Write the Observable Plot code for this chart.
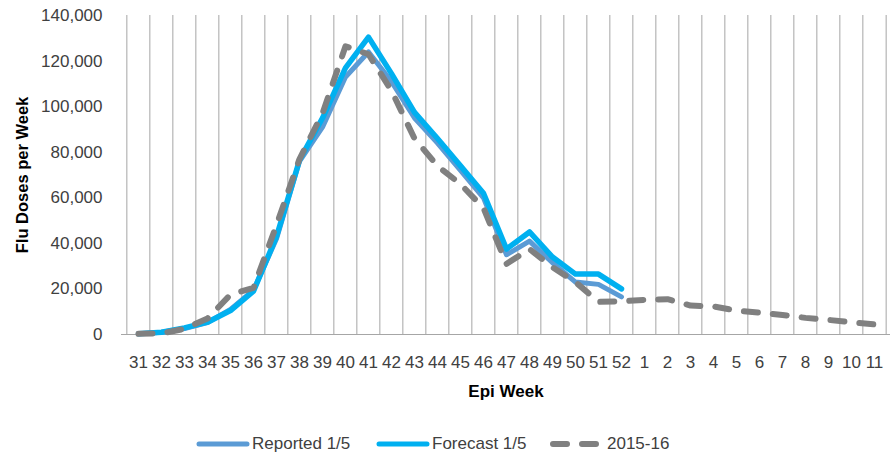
<!DOCTYPE html>
<html>
<head>
<meta charset="utf-8">
<script src="https://cdn.jsdelivr.net/npm/d3@7"></script>
<script src="https://cdn.jsdelivr.net/npm/@observablehq/plot@0.6"></script>
<style>
  html, body { margin: 0; padding: 0; background: #fff; }
  #wrap { width: 895px; position: relative; font-family: "Liberation Sans", Arial, sans-serif; }
  #legend { position: relative; width: 895px; height: 47px; font-size: 17px; color: #404040; }
  .item { position: absolute; top: 23px; display: flex; align-items: center; height: 22px; }
  .item svg { display: block; margin-right: 2px; }
</style>
</head>
<body>
<div id="wrap">
  <div id="chart"></div>
  <div id="legend">
    <div class="item" style="left:196px">
      <svg width="54" height="10"><line x1="3" y1="5" x2="51" y2="5" stroke="#5B9BD5" stroke-width="5" stroke-linecap="round"/></svg>Reported 1/5
    </div>
    <div class="item" style="left:376px">
      <svg width="54" height="10"><line x1="3" y1="5" x2="51" y2="5" stroke="#00B0F0" stroke-width="5" stroke-linecap="round"/></svg>Forecast 1/5
    </div>
    <div class="item" style="left:549px">
      <svg width="56" height="10"><line x1="4" y1="5" x2="52" y2="5" stroke="#808080" stroke-width="6" stroke-linecap="round" stroke-dasharray="14,15"/></svg>2015-16
    </div>
  </div>
</div>
<script>
const weeks = ["31","32","33","34","35","36","37","38","39","40","41","42","43","44","45","46","47","48","49","50","51","52",
               "1","2","3","4","5","6","7","8","9","10","11"];
const reported = [300, 1000, 2600, 5200, 11000, 19500, 42000, 76000, 91000, 113000, 124000, 111000,
                  95000, 84000, 72000, 60000, 35000, 41000, 31500, 23000, 22000, 16500];
const forecast = [300, 1000, 2900, 5400, 10500, 19000, 43000, 76500, 95000, 117000, 130500, 114500,
                  97500, 86000, 74000, 62000, 37500, 45000, 34000, 26500, 26500, 20000];
const season1516 = [300, 500, 2500, 7000, 17500, 20500, 48000, 77000, 97000, 126500, 123000, 107000,
                    86000, 74000, 66000, 55500, 31000, 37500, 29500, 23000, 14300, 14600,
                    15200, 15500, 12700, 12300, 10500, 9600, 8600, 7300, 6400, 5400, 4400];
const yTicks = [0, 20000, 40000, 60000, 80000, 100000, 120000, 140000];

const W = 895, H = 410, ML = 121, MR = 5, MT = 15, MB = 76;
const step = (W - ML - MR) / weeks.length;

const toRows = (arr) => arr.map((v, i) => ({week: weeks[i], value: v}));

const chart = Plot.plot({
  width: W, height: H,
  marginLeft: ML, marginRight: MR, marginTop: MT, marginBottom: MB,
  style: {fontFamily: "Liberation Sans, Arial, sans-serif", fontSize: "17px", color: "#404040", background: "white", overflow: "visible"},
  x: {type: "point", domain: weeks, padding: 0.5, tickSize: 0, tickPadding: 21, label: null},
  y: {domain: [0, 140000], ticks: yTicks, tickFormat: d3.format(","), tickSize: 0, tickPadding: 19, label: null},
  marks: [
    Plot.ruleX(weeks, {x: d => d, dx: -step / 2, stroke: "#a6a6a6", strokeWidth: 1, strokeOpacity: 1}),
    Plot.ruleX([weeks[weeks.length - 1]], {x: d => d, dx: step / 2, stroke: "#a6a6a6", strokeWidth: 1, strokeOpacity: 1}),
    Plot.ruleY([0], {stroke: "#a6a6a6", strokeWidth: 1, strokeOpacity: 1}),
    Plot.lineY(toRows(reported), {x: "week", y: "value", stroke: "#5B9BD5", strokeWidth: 5, strokeLinejoin: "round", strokeLinecap: "round"}),
    Plot.lineY(toRows(forecast), {x: "week", y: "value", stroke: "#00B0F0", strokeWidth: 5.5, strokeLinejoin: "round", strokeLinecap: "round"}),
    Plot.lineY(toRows(season1516), {x: "week", y: "value", stroke: "#808080", strokeWidth: 6, strokeDasharray: "14,15", strokeLinejoin: "round", strokeLinecap: "round"}),
    Plot.text(["Epi Week"], {text: d => d, frameAnchor: "bottom", dy: 62, fontWeight: "bold", fontSize: 17, fill: "black"}),
    Plot.text(["Flu Doses per Week"], {text: d => d, frameAnchor: "left", textAnchor: "middle", dx: -99, rotate: -90, fontWeight: "bold", fontSize: 16.5, fill: "black"})
  ]
});
document.getElementById("chart").appendChild(chart);
</script>
</body>
</html>
